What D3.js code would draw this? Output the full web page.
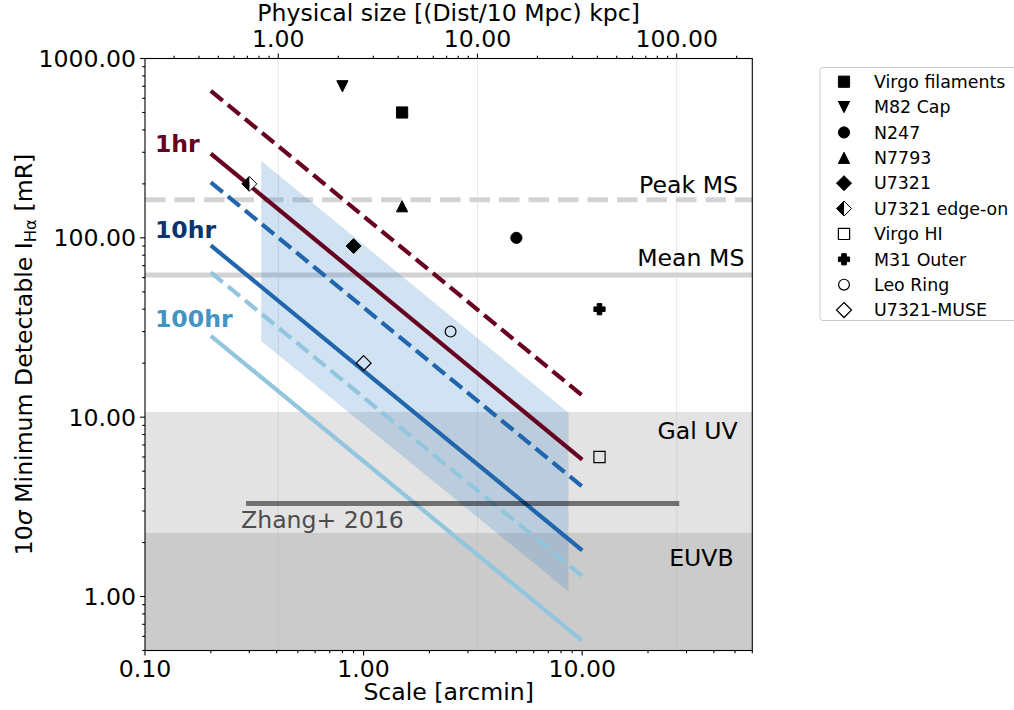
<!DOCTYPE html>
<html><head><meta charset="utf-8">
<script src="https://cdn.jsdelivr.net/npm/d3@7"></script>
<style>
body{margin:0;background:#fff;}
text{font-family:"DejaVu Sans",sans-serif;}
</style></head>
<body><svg id="c" width="1014" height="710"></svg>
<script>
// ---------- data ----------
const xTickValues = [0.1, 1, 10];
const yTickValues = [1, 10, 100, 1000];
const topTickValues = [1, 10, 100];
const lineX = [0.2, 10];
const oneHrDashed = [660, 13.2];
const oneHrSolid = [295, 5.8];
const tenHrDashed = [204, 4.1];
const tenHrSolid = [90.7, 1.81];
const hundredHrDashed = [64.1, 1.3];
const hundredHrSolid = [28.4, 0.567];
const bandX = [0.34, 8.65];
const bandUpper = [269, 10.6];
const bandLower = [26.6, 1.07];
const peakMS = 163;
const meanMS = 62;
const galUV = [2.26, 10.7];
const euvb = [0.5, 2.26];
const zhangX = [0.29, 27.8];
const zhangY = 3.3;
const pointNames = ["Virgo filaments","M82 Cap","N247","N7793","U7321","U7321 edge-on","Virgo HI","M31 Outer","Leo Ring","U7321-MUSE"];
const pointSymbols = ["square","tridown","circle","triup","diamond","halfdiamond","opensquare","plus","opencircle","opendiamond"];
const pointX = [1.5, 0.8, 5, 1.5, 0.9, 0.3, 12, 12, 2.5, 1.0];
const pointY = [500, 700, 100, 150, 90, 200, 6, 40, 30, 20];

// ---------- layout ----------
const svg = d3.select("#c");
const L = 145, R = 752.3, T = 58.5, B = 650.5;
const x = d3.scaleLog().domain([0.1, 60]).range([L, R]);
const xTop = d3.scaleLog().domain([0.2143, 239.7]).range([L, R]);
const y = d3.scaleLog().domain([0.5, 1000]).range([B, T]);
const FS = 23.6;

svg.append("defs").append("clipPath").attr("id","clip")
  .append("rect").attr("x",L).attr("y",T).attr("width",R-L).attr("height",B-T);
const g = svg.append("g").attr("clip-path","url(#clip)");

// spans
g.append("rect").attr("x",L).attr("width",R-L).attr("y",y(galUV[1])).attr("height",y(galUV[0])-y(galUV[1])).attr("fill","#e3e3e3");
g.append("rect").attr("x",L).attr("width",R-L).attr("y",y(euvb[1])).attr("height",y(euvb[0])-y(euvb[1])).attr("fill","#cbcbcb");

// grid from top axis
topTickValues.forEach(v=>{
  g.append("line").attr("x1",xTop(v)).attr("x2",xTop(v)).attr("y1",T).attr("y2",B)
   .attr("stroke","#b0b0b0").attr("stroke-opacity",0.3).attr("stroke-width",1);
});

// reference horizontal lines
g.append("line").attr("x1",L).attr("x2",R).attr("y1",y(peakMS)).attr("y2",y(peakMS))
  .attr("stroke","#d3d3d3").attr("stroke-width",5).attr("stroke-dasharray","20.5,9");
g.append("line").attr("x1",L).attr("x2",R).attr("y1",y(meanMS)).attr("y2",y(meanMS))
  .attr("stroke","#d3d3d3").attr("stroke-width",5);

// band
const bandPts = [[bandX[0],bandUpper[0]],[bandX[1],bandUpper[1]],[bandX[1],bandLower[1]],[bandX[0],bandLower[0]]];
g.append("path").attr("d", "M"+bandPts.map(p=>x(p[0])+","+y(p[1])).join("L")+"Z")
  .attr("fill","#3d8ac8").attr("fill-opacity",0.24);

// model lines
const line = d3.line().x(d=>x(d[0])).y(d=>y(d[1]));
const series = [
  {v:oneHrDashed, c:"#67001f", dash:true},
  {v:oneHrSolid, c:"#67001f", dash:false},
  {v:tenHrDashed, c:"#2166ac", dash:true},
  {v:tenHrSolid, c:"#2166ac", dash:false},
  {v:hundredHrDashed, c:"#92c5de", dash:true},
  {v:hundredHrSolid, c:"#92c5de", dash:false}
];
series.forEach(s=>{
  g.append("path").attr("d", line(lineX.map((xx,i)=>[xx, s.v[i]])))
   .attr("fill","none").attr("stroke",s.c).attr("stroke-width",4.2)
   .attr("stroke-dasharray", s.dash ? "15.4,6.7" : null);
});

// Zhang line
g.append("line").attr("x1",x(zhangX[0])).attr("x2",x(zhangX[1])).attr("y1",y(zhangY)).attr("y2",y(zhangY))
  .attr("stroke","#000").attr("stroke-opacity",0.5).attr("stroke-width",5);

// markers
function drawMarker(sel, type, cx, cy){
  const gg = sel.append("g").attr("transform",`translate(${cx},${cy})`);
  const filled = {fill:"#000", stroke:"#000", sw:1};
  const open = {fill:"none", stroke:"#000", sw:1.2};
  const ap = (d, st) => gg.append("path").attr("d",d).attr("fill",st.fill).attr("stroke",st.stroke).attr("stroke-width",st.sw);
  const s = 5.6;
  switch(type){
    case "square": ap(`M${-s},${-s}H${s}V${s}H${-s}Z`, filled); break;
    case "opensquare": ap(`M${-s},${-s}H${s}V${s}H${-s}Z`, open); break;
    case "tridown": ap(`M${-s},${-s}L${s},${-s}L0,${s}Z`, filled); break;
    case "triup": ap(`M${-s},${s}L${s},${s}L0,${-s}Z`, filled); break;
    case "circle": gg.append("circle").attr("r",5.6).attr("fill","#000").attr("stroke","#000").attr("stroke-width",1); break;
    case "opencircle": gg.append("circle").attr("r",5.4).attr("fill","none").attr("stroke","#000").attr("stroke-width",1.2); break;
    case "diamond": ap(`M0,-7.5L7.5,0L0,7.5L-7.5,0Z`, filled); break;
    case "opendiamond": ap(`M0,-7.5L7.5,0L0,7.5L-7.5,0Z`, open); break;
    case "halfdiamond":
      gg.append("path").attr("d","M0,-7.5L7.5,0L0,7.5Z").attr("fill","#fff");
      gg.append("path").attr("d","M0,-7.5L-7.5,0L0,7.5Z").attr("fill","#000");
      ap(`M0,-7.5L7.5,0L0,7.5L-7.5,0Z`, {fill:"none",stroke:"#000",sw:1});
      break;
    case "plus": {
      const a=5.6, b=2.3;
      ap(`M${-a},${-b}H${-b}V${-a}H${b}V${-b}H${a}V${b}H${b}V${a}H${-b}V${b}H${-a}Z`, filled); break;
    }
  }
}
const mg = svg.append("g").attr("clip-path","url(#clip)");
pointNames.forEach((n,i)=> drawMarker(mg, pointSymbols[i], x(pointX[i]), y(pointY[i])));

// in-plot labels
const tl = svg.append("g");
tl.append("text").attr("x",x(0.111)).attr("y",y(300)).attr("font-size",FS).attr("font-weight","bold").attr("fill","#67001f").text("1hr");
tl.append("text").attr("x",x(0.111)).attr("y",y(100)).attr("font-size",FS).attr("font-weight","bold").attr("fill","#0b3470").text("10hr");
tl.append("text").attr("x",x(0.111)).attr("y",y(32)).attr("font-size",FS).attr("font-weight","bold").attr("fill","#4393c3").text("100hr");
const rightLabels = [["Peak MS",51.6,193],["Mean MS",55.2,266],["Gal UV",51.4,439.3],["EUVB",49.3,565.7]];
rightLabels.forEach(r=>{
  tl.append("text").attr("x",x(r[1])).attr("y",r[2]).attr("text-anchor","end").attr("font-size",FS).attr("fill","#000").text(r[0]);
});
tl.append("text").attr("x",x(0.275)).attr("y",528.3).attr("font-size",FS).attr("fill","#4d4d4d").text("Zhang+ 2016");

// ---------- axes ----------
const minorOf = (scale) => scale.ticks().filter(t => { const m = t/Math.pow(10,Math.floor(Math.log10(t)+1e-9)); return Math.abs(m-Math.round(m))<1e-6 && Math.round(m)!==1; });
const fmt = d3.format(".2f");
const ax = svg.append("g");
function ticks(scale, vals, orient, len){
  vals.forEach(v=>{
    const p = scale(v);
    if(orient==="bottom") ax.append("line").attr("x1",p).attr("x2",p).attr("y1",B).attr("y2",B+len);
    if(orient==="top") ax.append("line").attr("x1",p).attr("x2",p).attr("y1",T).attr("y2",T-len);
    if(orient==="left") ax.append("line").attr("x1",L).attr("x2",L-len).attr("y1",p).attr("y2",p);
  });
}
ticks(x, xTickValues, "bottom", 4.9);
ticks(x, minorOf(x), "bottom", 2.8);
ticks(xTop, topTickValues, "top", 4.9);
ticks(xTop, minorOf(xTop), "top", 2.8);
ticks(y, yTickValues, "left", 4.9);
ticks(y, minorOf(y), "left", 2.8);
ax.selectAll("line").attr("stroke","#000").attr("stroke-width",1.1);

xTickValues.forEach(v=> ax.append("text").attr("x",x(v)).attr("y",B+26).attr("text-anchor","middle").attr("font-size",FS).text(fmt(v)));
topTickValues.forEach(v=> ax.append("text").attr("x",xTop(v)).attr("y",T-12).attr("text-anchor","middle").attr("font-size",FS).text(fmt(v)));
yTickValues.forEach(v=> ax.append("text").attr("x",L-9).attr("y",y(v)).attr("dy","0.36em").attr("text-anchor","end").attr("font-size",FS).text(fmt(v)));

svg.append("rect").attr("x",L).attr("y",T).attr("width",R-L).attr("height",B-T).attr("fill","none").attr("stroke","#000").attr("stroke-width",1.1);

svg.append("text").attr("x",(L+R)/2).attr("y",700).attr("text-anchor","middle").attr("font-size",FS).text("Scale [arcmin]");
svg.append("text").attr("x",(L+R)/2).attr("y",21).attr("text-anchor","middle").attr("font-size",FS).text("Physical size [(Dist/10 Mpc) kpc]");
const yl = svg.append("text").attr("transform",`translate(32,${(T+B)/2}) rotate(-90)`).attr("text-anchor","middle").attr("font-size",FS);
yl.append("tspan").text("10");
yl.append("tspan").attr("font-style","italic").text("σ");
yl.append("tspan").text(" Minimum Detectable I");
yl.append("tspan").attr("font-size",16.5).attr("dy",4).text("Hα");
yl.append("tspan").attr("dy",-4).text(" [mR]");

// ---------- legend ----------
const lg = svg.append("g");
lg.append("rect").attr("x",820).attr("y",67.5).attr("width",210).attr("height",253).attr("rx",3)
  .attr("fill","#fff").attr("fill-opacity",0.8).attr("stroke","#cccccc").attr("stroke-width",1);
pointNames.forEach((n,i)=>{
  const yy = 81.7 + i*25.37;
  drawMarker(lg, pointSymbols[i], 844, yy);
  lg.append("text").attr("x",874).attr("y",yy).attr("dy","0.36em").attr("font-size",17.4).text(n);
});
</script></body></html>
